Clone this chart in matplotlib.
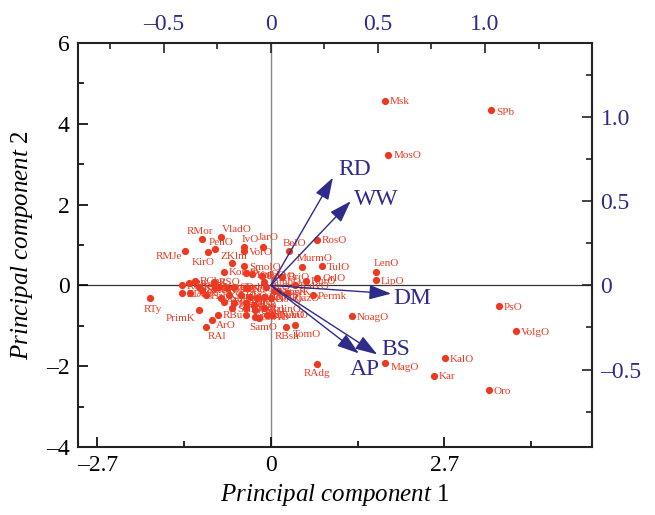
"""Biplot of regions on the first two principal components, with loading vectors."""

import matplotlib
matplotlib.use('Agg')
import matplotlib.pyplot as plt

plt.rcParams['font.family'] = ['Liberation Serif', 'DejaVu Serif']
plt.rcParams['mathtext.fontset'] = 'custom'
plt.rcParams['mathtext.rm'] = 'Liberation Serif'
plt.rcParams['mathtext.it'] = 'Liberation Serif:italic'

# Region scores (principal component 1, principal component 2)
names = ['Msk', 'SPb', 'MosO', 'LenO', 'LipO', 'PsO', 'VolgO', 'NoagO', 'KalO', 'MagO',
         'Kar', 'Oro', 'RosO', 'BelO', 'MurmO', 'TulO', 'OrlO', 'KurO', 'KalvO', 'RjazO',
         'Permk', 'RAdg', 'TomO', 'RBsh', 'TjumO', 'SamO', 'RBu', 'ArO', 'RAl', 'PrimK',
         'RTy', 'RMJe', 'RMor', 'VladO', 'IvO', 'VorO', 'JarO', 'PenO', 'KirO', 'ZKlm',
         'KomO', 'SmolO', 'TverO', 'KalgO', 'KostO', 'BrjO', 'TambO', 'KurgO',
         'RChe', 'RKalm', 'RChu', 'RDag', 'AltK', 'RIng', 'RKBR', 'HabK', 'RKChR', 'ZabK', 'RSO',
         'UdmR', 'ChelO', 'NizO', 'SvO', 'KrasK', 'StavK', 'SarO', 'UljO', 'AstrO', 'IrkO',
         'KemO', 'NovO', 'VologO', 'KamK', 'RHak', 'RSa', 'SahO', 'ArhO', 'OmO', 'KalinO',
         'EvrAO', 'ChAO', 'JaNAO']
pc1 = [1.78, 3.42, 1.83, 1.63, 1.64, 3.55, 3.82, 1.26, 2.71, 1.77,
       2.54, 3.39, 0.72, 0.29, 0.49, 0.80, 0.72, 0.55, 0.38, 0.26,
       0.66, 0.72, 0.38, 0.23, 0.02, -0.19, -0.82, -0.91, -1.01, -1.12,
       -1.88, -1.34, -1.07, -0.77, -0.41, -0.42, -0.12, -0.86, -0.97, -0.60,
       -0.73, -0.42, -0.39, -0.29, -0.14, 0.18, -0.11, -0.81,
       -1.38, -1.27, -1.18, -1.38, -1.25, -1.12, -1.07, -1.01, -0.86, -0.78, -0.89,
       -0.68, -0.57, -0.37, -0.08, 0.05, 0.12, -0.65, -0.47, -0.32, -0.21,
       -0.11, -0.00, -0.73, -0.57, -0.39, -0.26, -0.60, -0.39, -0.24, -0.11,
       -0.39, -0.24, -0.06]
pc2 = [4.57, 4.35, 3.23, 0.32, 0.13, -0.51, -1.13, -0.76, -1.80, -1.91,
       -2.24, -2.60, 1.13, 0.84, 0.45, 0.47, 0.19, 0.11, 0.00, -0.18,
       -0.24, -1.94, -0.98, -1.02, -0.73, -0.81, -0.73, -0.85, -1.02, -0.61,
       -0.32, 0.86, 1.14, 1.19, 0.95, 0.84, 0.96, 0.90, 0.82, 0.55,
       0.34, 0.47, 0.30, 0.28, 0.24, 0.22, 0.09, -0.03,
       0.00, 0.05, 0.11, -0.19, -0.18, -0.03, -0.11, -0.24, -0.07, -0.32, 0.09,
       -0.07, -0.03, -0.07, -0.03, -0.15, -0.15, -0.24, -0.24, -0.28, -0.32,
       -0.28, -0.32, -0.40, -0.44, -0.44, -0.48, -0.56, -0.56, -0.61, -0.56,
       -0.73, -0.77, -0.73]

# Loadings of the variables (top / right axes)
variables = ['RD', 'WW', 'DM', 'BS', 'AP']
load1 = [0.29, 0.373, 0.562, 0.497, 0.411]
load2 = [0.64, 0.50, -0.049, -0.41, -0.404]

red = '#ec3a22'
blue = '#2e2b8a'

# label placement: offset in pixels and alignment, default is to the right of the dot
label_pos = {
    'LenO': (-2, 9, 'left'), 'MagO': (6, -5, 'left'), 'SPb': (6, -3, 'left'),
    'BelO': (5, 8, 'center'), 'MurmO': (-6, 9, 'left'), 'RAdg': (0, -10, 'center'),
    'TomO': (-2, -9, 'left'), 'RBsh': (2, -10, 'center'), 'SamO': (5, -9, 'center'),
    'ArO': (4, -6, 'left'), 'RAl': (11, -10, 'center'), 'PrimK': (-3, -8, 'right'),
    'RTy': (3, -11, 'center'), 'RMJe': (-3, -6, 'right'), 'RMor': (-2, 8, 'center'),
    'VladO': (1, 8, 'left'), 'IvO': (6, 8, 'center'), 'JarO': (5, 9, 'center'),
    'PenO': (6, 7, 'center'), 'KirO': (-5, -10, 'center'), 'ZKlm': (2, 7, 'center'),
    'RjazO': (4, -6, 'left'), 'EvrAO': (8, -2, 'left'),
}

vec_text = {'RD': (0.39, 0.69), 'WW': (0.49, 0.51), 'DM': (0.66, -0.077),
            'BS': (0.585, -0.38), 'AP': (0.44, -0.50)}

fig = plt.figure(figsize=(6.55, 5.15), dpi=100)
rect = [0.119, 0.132, 0.785, 0.7845]
ax = fig.add_axes(rect)
ax.set_xlim(-3.0, 5.0)
ax.set_ylim(-4, 6)

ax.axhline(0, color='#333333', lw=0.9, zorder=1)
ax.axvline(0, color='#888888', lw=1.0, zorder=1)

ax.scatter(pc1, pc2, s=27, color=red, zorder=3, linewidths=0)
for n, x, y in zip(names, pc1, pc2):
    dx, dy, ha = label_pos.get(n, (5, -1, 'left'))
    ax.annotate(n, (x, y), xytext=(dx, dy), textcoords='offset pixels',
                ha=ha, va='center', fontsize=8, color=red, zorder=4)

ax.set_xticks([-2.7, 0, 2.7])
ax.set_xticklabels(['\u20132.7', '0', '2.7'])
ax.set_xticks([-1.35, 1.35, 4.05], minor=True)
ax.set_yticks([-4, -2, 0, 2, 4, 6])
ax.set_yticklabels(['\u20134', '\u20132', '0', '2', '4', '6'])
ax.set_yticks([-3, -1, 1, 3, 5], minor=True)
ax.tick_params(which='both', direction='in', labelsize=17, width=1.2)
ax.tick_params(which='major', length=7, pad=6)
ax.tick_params(which='minor', length=4)
for s in ax.spines.values():
    s.set_linewidth(1.5)
    s.set_color('#222222')

ax.set_xlabel(r'$\mathit{Principal\ component}$ 1', fontsize=18, labelpad=4)
ax.set_ylabel(r'$\mathit{Principal\ component}$ 2', fontsize=18, labelpad=8)

# second pair of axes for the loadings
ax2 = fig.add_axes(rect, frameon=False)
ax2.set_xlim(-0.9, 1.5)
ax2.set_ylim(-0.96, 1.44)
ax2.xaxis.tick_top()
ax2.yaxis.tick_right()
ax2.set_xticks([-0.5, 0, 0.5, 1.0])
ax2.set_xticklabels(['\u20130.5', '0', '0.5', '1.0'])
ax2.set_xticks([-0.75, -0.25, 0.25, 0.75, 1.25], minor=True)
ax2.set_yticks([-0.5, 0, 0.5, 1.0])
ax2.set_yticklabels(['\u20130.5', '0', '0.5', '1.0'])
ax2.set_yticks([-0.75, -0.25, 0.25, 0.75, 1.25], minor=True)
ax2.tick_params(which='both', direction='in', labelsize=17, width=1.2,
                colors='#222222', labelcolor=blue)
ax2.tick_params(which='major', length=7, pad=6)
ax2.tick_params(which='minor', length=4)

for v, lx, ly in zip(variables, load1, load2):
    ax2.annotate('', xy=(lx, ly), xytext=(0, 0),
                 arrowprops=dict(arrowstyle='-|>,head_length=0.9,head_width=0.3',
                                 color=blue, lw=1.0, shrinkA=0, shrinkB=0,
                                 mutation_scale=15))
    tx, ty = vec_text[v]
    ax2.text(tx, ty, v, fontsize=17, color=blue, ha='center', va='center')

fig.savefig('out.png', dpi=100)
